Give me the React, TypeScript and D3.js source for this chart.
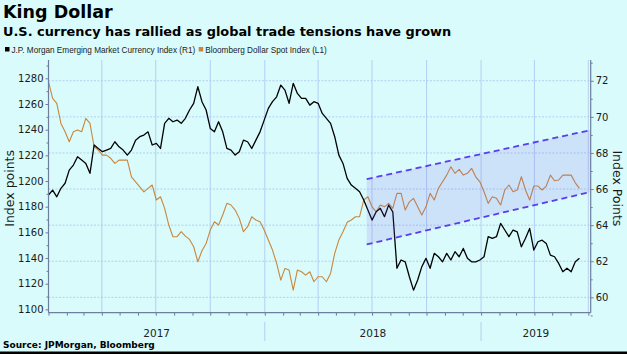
import * as d3 from "d3"
import { useEffect, useRef } from "react"

// x axis runs from the first week of 2017 to early July 2019
const startDate = new Date(2017, 0, 1)
const axisEnd = new Date(2019, 6, 5)

// J.P. Morgan Emerging Market Currency Index, weekly readings (right axis, R1)
const jpmEm = [
  65.67, 65.94, 65.57, 66.04, 66.32, 67.05, 67.33, 67.79, 67.61, 67.42,
  66.87, 68.44, 68.25, 68.07, 68.16, 68.25, 68.62, 68.34, 68.16, 67.88,
  68.16, 68.71, 68.9, 68.99, 69.17, 68.44, 68.53, 68.25, 69.64, 69.92,
  69.73, 69.82, 69.64, 69.92, 70.38, 70.75, 71.67, 70.84, 70.38, 69.36,
  69.17, 69.73, 69.17, 68.25, 68.16, 67.88, 68.07, 68.71, 68.62, 68.25,
  68.71, 69.17, 69.82, 70.47, 70.84, 71.11, 71.76, 71.48, 70.75, 71.86,
  71.3, 71.02, 71.02, 70.65, 70.84, 70.75, 70.19, 69.92, 69.64, 68.9,
  67.88, 67.42, 66.59, 66.22, 66.04, 65.85, 65.39, 64.84, 64.28, 64.74,
  64.93, 64.47, 65.11, 64.74, 61.61, 62.07, 61.97, 61.14, 60.4, 60.96,
  61.7, 62.16, 61.61, 62.44, 62.25, 61.97, 62.44, 62.07, 62.53, 62.25,
  62.71, 62.16, 61.97, 61.97, 62.07, 62.25, 63.36, 63.27, 63.36, 64.1,
  63.73, 63.36, 63.73, 63.63, 62.8, 63.27, 63.82, 62.62, 63.08, 63.17,
  62.99, 62.34, 62.25, 61.88, 61.42, 61.61, 61.42, 61.97, 62.16,
]

// Bloomberg Dollar Spot Index, weekly readings (left axis, L1)
const bbDollar = [
  1277.4, 1264.4, 1260.5, 1244.9, 1238.4, 1230.6, 1238.4, 1239.7, 1238.4, 1248.8,
  1244.9, 1226.7, 1224.1, 1220.2, 1220.2, 1217.7, 1213.8, 1216.3, 1216.3, 1216.3,
  1203.3, 1199.4, 1195.5, 1191.6, 1194.3, 1196.9, 1185.2, 1187.7, 1178.7, 1165.7,
  1156.6, 1156.6, 1160.5, 1157.1, 1154.5, 1148.8, 1137.1, 1145.7, 1151.4, 1161.8,
  1168.3, 1165.7, 1173.5, 1182.6, 1181.3, 1177.4, 1170.9, 1160.5, 1164.4, 1172.2,
  1169.6, 1168.3, 1161.8, 1154.0, 1146.2, 1135.8, 1122.8, 1131.9, 1130.6, 1115.0,
  1130.6, 1129.3, 1126.7, 1129.3, 1121.5, 1125.4, 1125.4, 1121.5, 1128.0, 1143.6,
  1154.0, 1160.5, 1167.8, 1169.6, 1172.2, 1172.2, 1185.2, 1187.7, 1179.9, 1176.0,
  1181.3, 1179.9, 1182.6, 1178.7, 1190.4, 1190.4, 1177.4, 1183.8, 1186.5, 1179.9,
  1173.5, 1179.9, 1190.4, 1185.2, 1194.3, 1199.4, 1204.6, 1211.1, 1206.0, 1209.1,
  1204.6, 1206.0, 1209.9, 1203.3, 1199.4, 1191.6, 1182.6, 1187.7, 1186.5, 1181.3,
  1193.0, 1196.9, 1191.6, 1193.0, 1203.3, 1193.0, 1185.2, 1196.1, 1196.1, 1193.0,
  1196.1, 1204.6, 1200.2, 1200.8, 1204.6, 1204.6, 1204.6, 1198.6, 1194.3,
]

const leftTicks = [1100, 1120, 1140, 1160, 1180, 1200, 1220, 1240, 1260, 1280]
const rightTicks = [60, 62, 64, 66, 68, 70, 72]
const years = [2017, 2018, 2019]

// trend channel drawn over the dollar index (left axis values)
const channelDates = [new Date(2018, 5, 22), new Date(2019, 6, 5)]
const channelUpper = [1201.5, 1239.7]
const channelLower = [1150.6, 1191.5]

const App = () => {
  const svgRef = useRef<SVGSVGElement | null>(null)

  useEffect(() => {
    if (!svgRef.current) return
    const root = d3.select(svgRef.current)
    root.selectAll("*").remove()

    const W = 627
    const H = 354
    const left = 48.5
    const right = 590.7
    const top = 60
    const bottom = 312.7
    const font = "DejaVu Sans"
    const axisColor = "#6d7f9c"
    const gridColor = "#aac4f2"

    root.append("rect").attr("width", W).attr("height", H).attr("fill", "#d9fbfb")

    const x = d3.scaleTime().domain([startDate, axisEnd]).range([left, right])
    const yL = d3.scaleLinear().domain([1097.4, 1294.3]).range([bottom, top])
    const yR = d3.scaleLinear().domain([59.15, 73.15]).range([bottom, top])

    const weeks = jpmEm.map((_, i) => d3.timeDay.offset(startDate, i * 7))

    // Title block
    root
      .append("text")
      .attr("x", 3)
      .attr("y", 18)
      .style("font-family", font)
      .style("font-weight", "bold")
      .style("font-size", "17.5px")
      .text("King Dollar")

    root
      .append("text")
      .attr("x", 3)
      .attr("y", 36)
      .style("font-family", font)
      .style("font-weight", "bold")
      .style("font-size", "12.9px")
      .text("U.S. currency has rallied as global trade tensions have grown")

    // Legend
    const legend = [
      { label: "J.P. Morgan Emerging Market Currency Index (R1)", color: "#000000" },
      { label: "Bloomberg Dollar Spot Index (L1)", color: "#c8873c" },
    ]
    let lx = 5
    legend.forEach(item => {
      root.append("rect").attr("x", lx).attr("y", 47).attr("width", 4.5).attr("height", 4.5).attr("fill", item.color)
      const t = root
        .append("text")
        .attr("x", lx + 6.5)
        .attr("y", 52.5)
        .style("font-family", "Liberation Sans")
        .style("font-size", "8.2px")
        .attr("fill", "#222")
        .text(item.label)
      const w = (t.node() as SVGTextElement).getComputedTextLength()
      lx += w + 10
    })

    // Grid
    const grid = root.append("g")
    grid
      .selectAll("line.h")
      .data(rightTicks)
      .enter()
      .append("line")
      .attr("x1", left)
      .attr("x2", right)
      .attr("y1", d => yR(d))
      .attr("y2", d => yR(d))
      .attr("stroke", gridColor)
      .attr("stroke-width", 0.8)
      .attr("stroke-dasharray", "2,1.5")

    const quarters = d3.timeMonth.every(3)!.range(d3.timeDay.offset(startDate, 1), axisEnd)
    grid
      .selectAll("line.v")
      .data(quarters)
      .enter()
      .append("line")
      .attr("x1", d => x(d))
      .attr("x2", d => x(d))
      .attr("y1", top)
      .attr("y2", bottom)
      .attr("stroke", gridColor)
      .attr("stroke-width", 0.8)

    // Series
    const lineL = d3
      .line<number>()
      .x((_, i) => x(weeks[i]))
      .y(d => yL(d))
    const lineR = d3
      .line<number>()
      .x((_, i) => x(weeks[i]))
      .y(d => yR(d))

    root
      .append("path")
      .datum(bbDollar)
      .attr("fill", "none")
      .attr("stroke", "#c8873c")
      .attr("stroke-width", 1.1)
      .attr("stroke-linejoin", "round")
      .attr("d", lineL)

    root
      .append("path")
      .datum(jpmEm)
      .attr("fill", "none")
      .attr("stroke", "#000000")
      .attr("stroke-width", 1.3)
      .attr("stroke-linejoin", "round")
      .attr("d", lineR)

    // Channel on top of the lines
    const chIdx = [0, 1]
    const chArea = d3
      .area<number>()
      .x(i => x(channelDates[i]))
      .y0(i => yL(channelLower[i]))
      .y1(i => yL(channelUpper[i]))
    root
      .append("path")
      .datum(chIdx)
      .attr("fill", "rgb(130,90,235)")
      .attr("fill-opacity", 0.15)
      .attr("d", chArea)

    const chLine = (vals: number[]) =>
      d3
        .line<number>()
        .x(i => x(channelDates[i]))
        .y(i => yL(vals[i]))(chIdx)
    ;[channelUpper, channelLower].forEach(vals => {
      root
        .append("path")
        .attr("d", chLine(vals))
        .attr("fill", "none")
        .attr("stroke", "#5a3cf2")
        .attr("stroke-width", 1.8)
        .attr("stroke-dasharray", "6,4")
    })

    // Axes
    const leftAxis = root
      .append("g")
      .attr("transform", `translate(${left},0)`)
      .call(d3.axisLeft(yL).tickValues(leftTicks).tickSize(3).tickPadding(2).tickFormat(d3.format("d")))
    const leftMinor = root
      .append("g")
      .attr("transform", `translate(${left},0)`)
      .call(
        d3
          .axisLeft(yL)
          .tickValues(d3.range(1110, 1300, 20))
          .tickSize(2)
          .tickFormat(() => "")
      )

    const rightAxis = root
      .append("g")
      .attr("transform", `translate(${right},0)`)
      .call(d3.axisRight(yR).tickValues(rightTicks).tickSize(3).tickPadding(2))
    const rightMinor = root
      .append("g")
      .attr("transform", `translate(${right},0)`)
      .call(
        d3
          .axisRight(yR)
          .tickValues([59, 61, 63, 65, 67, 69, 71, 73])
          .tickSize(2)
          .tickFormat(() => "")
      )

    const months = d3.timeMonth.range(startDate, axisEnd)
    const bottomAxis = root
      .append("g")
      .attr("transform", `translate(0,${bottom})`)
      .call(
        d3
          .axisBottom(x)
          .tickValues(months)
          .tickSize(3)
          .tickFormat(() => "")
      )

    ;[leftAxis, leftMinor, rightAxis, rightMinor, bottomAxis].forEach(g => {
      g.select(".domain").attr("stroke", axisColor).attr("stroke-width", 1.2)
      g.selectAll(".tick line").attr("stroke", axisColor)
      g.selectAll("text")
        .style("font-family", font)
        .style("font-size", "10px")
        .attr("fill", "#1a1a1a")
    })
    leftAxis.select(".domain").attr("d", `M0,${top}V${bottom}`)
    rightAxis.select(".domain").attr("d", `M0,${top}V${bottom}`)
    leftMinor.select(".domain").remove()
    rightMinor.select(".domain").remove()
    bottomAxis.select(".domain").attr("d", `M${left},0H${right}`)

    // Year labels and separators
    years.forEach(yr => {
      const a = new Date(yr, 0, 1) < startDate ? startDate : new Date(yr, 0, 1)
      const bRaw = new Date(yr + 1, 0, 1)
      const b = bRaw > axisEnd ? axisEnd : bRaw
      root
        .append("text")
        .attr("x", (x(a) + x(b)) / 2)
        .attr("y", 337)
        .attr("text-anchor", "middle")
        .style("font-family", font)
        .style("font-size", "10.5px")
        .attr("fill", "#222")
        .text(String(yr))
      if (yr > years[0]) {
        root
          .append("line")
          .attr("x1", x(a))
          .attr("x2", x(a))
          .attr("y1", 322)
          .attr("y2", 341)
          .attr("stroke", "#b8cdf2")
          .attr("stroke-width", 1)
      }
    })

    // Axis titles
    root
      .append("text")
      .attr("transform", `translate(14,${(top + bottom) / 2 + 2}) rotate(-90)`)
      .attr("text-anchor", "middle")
      .style("font-family", font)
      .style("font-size", "12.5px")
      .attr("fill", "#1a1a1a")
      .text("Index points")

    root
      .append("text")
      .attr("transform", `translate(613,${(top + bottom) / 2 + 2}) rotate(90)`)
      .attr("text-anchor", "middle")
      .style("font-family", font)
      .style("font-size", "12.5px")
      .attr("fill", "#1a1a1a")
      .text("Index Points")

    // Source and bottom rule
    root
      .append("text")
      .attr("x", 3)
      .attr("y", 348)
      .style("font-family", font)
      .style("font-weight", "bold")
      .style("font-size", "9px")
      .text("Source: JPMorgan, Bloomberg")

    root.append("rect").attr("x", 0).attr("y", 351.5).attr("width", W).attr("height", 2.5).attr("fill", "#000")
  }, [])

  return (
    <div style={{ position: "absolute", left: 0, top: 0, width: 627, height: 354 }}>
      <svg ref={svgRef} width={627} height={354} style={{ display: "block" }} />
    </div>
  )
}

export default App
